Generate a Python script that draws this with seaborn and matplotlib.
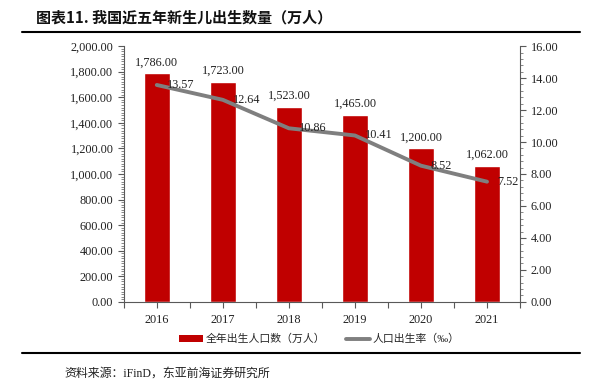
import matplotlib
matplotlib.use("Agg")
import matplotlib.pyplot as plt
import seaborn as sns
import pandas as pd
from matplotlib.patches import Patch
from matplotlib.lines import Line2D
from matplotlib.ticker import MultipleLocator, AutoMinorLocator, FuncFormatter

# data
years = ["2016", "2017", "2018", "2019", "2020", "2021"]
births = [1786, 1723, 1523, 1465, 1200, 1062]
birth_rate = [13.57, 12.64, 10.86, 10.41, 8.52, 7.52]

bar_label = "全年出生人口数（万人）"
line_label = "人口出生率（‰）"
title = "图表11. 我国近五年新生儿出生数量（万人）"
source = "资料来源：iFinD，东亚前海证券研究所"

sns.set_style("white")
plt.rcParams["font.family"] = ["Liberation Serif", "Noto Sans CJK SC"]

df = pd.DataFrame({"year": years, "births": births, "rate": birth_rate})

fig = plt.figure(figsize=(5.95, 3.91), dpi=100)
ax = fig.add_axes([0.208, 0.228, 0.666, 0.654])

sns.barplot(data=df, x="year", y="births", color="#C00000", width=0.4,
            saturation=1, ax=ax)
ax.set_ylim(0, 2000)
ax.set_xlim(-0.5, 5.5)
ax.yaxis.set_major_locator(MultipleLocator(200))
ax.yaxis.set_minor_locator(AutoMinorLocator(10))
ax.yaxis.set_major_formatter(FuncFormatter(lambda v, p: f"{v:,.2f}"))
ax.set_xlabel("")
ax.set_ylabel("")
ax.set_xticks([i * 0.5 - 0.5 for i in range(13)])
ax.set_xticklabels(["" if i % 2 == 0 else years[i // 2] for i in range(13)])
for s in ["top", "right"]:
    ax.spines[s].set_visible(False)
for s in ["left", "bottom"]:
    ax.spines[s].set_color("#595959")
    ax.spines[s].set_linewidth(0.8)
ax.tick_params(axis="both", which="major", direction="out", length=4, width=0.8,
               color="#595959", labelsize=8.8, labelcolor="#222222", left=True, bottom=True)
ax.tick_params(axis="x", which="major", pad=5)
ax.tick_params(axis="y", which="minor", direction="out", length=2, width=0.5,
               color="#595959", left=True)
for i, v in enumerate(births):
    ax.text(i, v + 40, f"{v:,.2f}", ha="center", va="bottom", fontsize=8.8, color="#222222")

ax2 = ax.twinx()
sns.lineplot(x=list(range(len(years))), y=birth_rate, color="#7F7F7F", linewidth=2.8,
             ax=ax2)
ax2.set_ylim(0, 16)
ax2.set_xlim(-0.5, 5.5)
ax2.yaxis.set_major_locator(MultipleLocator(2))
ax2.yaxis.set_minor_locator(AutoMinorLocator(5))
ax2.yaxis.set_major_formatter(FuncFormatter(lambda v, p: f"{v:.2f}"))
for s in ["top", "left", "bottom"]:
    ax2.spines[s].set_visible(False)
ax2.spines["right"].set_color("#595959")
ax2.spines["right"].set_linewidth(0.8)
ax2.tick_params(axis="y", which="major", direction="out", length=4, width=0.8,
                color="#595959", labelsize=8.8, labelcolor="#222222", right=True)
ax2.tick_params(axis="y", which="minor", direction="out", length=2, width=0.5,
                color="#595959", right=True)
for i, v in enumerate(birth_rate):
    ax2.text(i + 0.15, v, f"{v:.2f}", ha="left", va="center", fontsize=8.8,
             color="#222222")

handles = [Patch(facecolor="#C00000", edgecolor="none"),
           Line2D([0], [0], color="#7F7F7F", linewidth=2.8)]
fig.legend(handles, [bar_label, line_label], loc="center left", ncol=2,
           bbox_to_anchor=(0.285, 0.133), frameon=False, fontsize=7.8,
           handlelength=2.2, handleheight=0.6, columnspacing=1.9, handletextpad=0.25)

fig.text(0.06, 0.955, title, fontsize=10.8, fontweight="heavy", ha="left", va="center",
         family=["Noto Sans CJK SC", "DejaVu Sans"], color="#111111")
fig.add_artist(Line2D([0.037, 0.975], [0.918, 0.918], color="black", linewidth=1.5))
fig.add_artist(Line2D([0.037, 0.975], [0.097, 0.097], color="black", linewidth=1.5))
fig.text(0.109, 0.045, source, fontsize=8.6, ha="left", va="center", color="#222222")

fig.savefig("out.png", dpi=100)
